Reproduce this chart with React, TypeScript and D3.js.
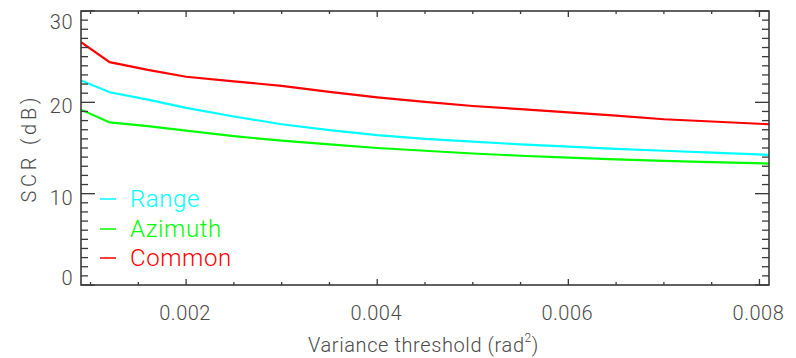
import React from "react";
import * as d3 from "d3";

const xValues = [0.0009, 0.0012, 0.0016, 0.002, 0.0025, 0.003, 0.0035, 0.004, 0.0045, 0.005, 0.0055, 0.006, 0.0065, 0.007, 0.0075, 0.0081];
const rangeValues = [22.4, 21.1, 20.3, 19.4, 18.45, 17.6, 16.95, 16.4, 16.0, 15.7, 15.4, 15.15, 14.9, 14.7, 14.5, 14.25];
const azimuthValues = [19.2, 17.8, 17.4, 16.9, 16.3, 15.8, 15.4, 15.0, 14.7, 14.4, 14.15, 13.95, 13.75, 13.6, 13.45, 13.3];
const commonValues = [26.6, 24.4, 23.55, 22.8, 22.3, 21.8, 21.15, 20.55, 20.05, 19.6, 19.25, 18.9, 18.55, 18.15, 17.9, 17.6];

const seriesNames = ["Range", "Azimuth", "Common"];
const seriesColors = ["#00ffff", "#00ff00", "#ff0000"];
const seriesData = [rangeValues, azimuthValues, commonValues];

const xTickLabels = ["0.002", "0.004", "0.006", "0.008"];
const yTickLabels = ["0", "10", "20", "30"];

const W = 796;
const H = 358;
const M = { left: 81, right: 769, top: 11, bottom: 285 };
const FONT = "Roboto, 'DejaVu Sans', sans-serif";
const AXIS = "#3a3a3a";
const TEXT = "#4a4a4a";

export default function App() {
  const x = d3.scaleLinear().domain([0.0009, 0.0081]).range([M.left, M.right]);
  const y = d3.scaleLinear().domain([0, 30]).range([M.bottom, M.top]);

  const line = d3
    .line<[number, number]>()
    .x((d) => x(d[0]))
    .y((d) => y(d[1]));

  const xMinor = d3.range(0.001, 0.00811, 0.0005).filter((v) => v >= 0.0009 && v <= 0.0081);
  const xMajor = xTickLabels.map(Number);
  const yMinor = d3.range(0, 31, 1);
  const yMajor = yTickLabels.map(Number);

  const isMajorX = (v: number) => xMajor.some((m) => Math.abs(m - v) < 1e-9);
  const isMajorY = (v: number) => yMajor.includes(v);

  const legendY = [199, 229, 258];

  return (
    <svg
      width={W}
      height={H}
      style={{ position: "absolute", left: 0, top: 0, background: "#fff" }}
      fontFamily={FONT}
    >
      <rect x={0} y={0} width={W} height={H} fill="#fff" />
      <defs>
        <clipPath id="clip">
          <rect x={M.left} y={M.top} width={M.right - M.left} height={M.bottom - M.top} />
        </clipPath>
      </defs>
      {/* data lines */}
      <g clipPath="url(#clip)">
        {seriesData.map((vals, i) => (
          <path
            key={seriesNames[i]}
            d={line(xValues.map((xv, j) => [xv, vals[j]]) as [number, number][]) || ""}
            fill="none"
            stroke={seriesColors[i]}
            strokeWidth={2.2}
          />
        ))}
      </g>

      {/* frame */}
      <rect
        x={M.left}
        y={M.top}
        width={M.right - M.left}
        height={M.bottom - M.top}
        fill="none"
        stroke={AXIS}
        strokeWidth={1.6}
      />

      {/* x ticks bottom & top */}
      {xMinor.map((v) => {
        const len = isMajorX(v) ? 6 : 3;
        const px = x(v);
        return (
          <g key={"xt" + v}>
            <line x1={px} x2={px} y1={M.bottom} y2={M.bottom - len} stroke={AXIS} strokeWidth={1.3} />
            <line x1={px} x2={px} y1={M.top} y2={M.top + len} stroke={AXIS} strokeWidth={1.3} />
          </g>
        );
      })}

      {/* y ticks left & right */}
      {yMinor.map((v) => {
        const len = isMajorY(v) ? 14 : 7;
        const py = y(v);
        return (
          <g key={"yt" + v}>
            <line x1={M.left} x2={M.left + len} y1={py} y2={py} stroke={AXIS} strokeWidth={1.3} />
            <line x1={M.right} x2={M.right - len} y1={py} y2={py} stroke={AXIS} strokeWidth={1.3} />
          </g>
        );
      })}

      {/* x tick labels */}
      {xTickLabels.map((t) => (
        <text
          key={"xl" + t}
          x={x(Number(t)) - 1}
          y={313}
          textAnchor="middle"
          dominantBaseline="central"
          fontSize={20}
          fontWeight={300}
          fill={TEXT}
          letterSpacing={0.5}
        >
          {t}
        </text>
      ))}

      {/* y tick labels */}
      {yTickLabels.map((t) => {
        const py = Math.max(M.top + 11, Math.min(M.bottom - 7, y(Number(t)) + 4));
        return (
          <text
            key={"yl" + t}
            x={73}
            y={py}
            textAnchor="end"
            dominantBaseline="central"
            fontSize={20}
            fontWeight={300}
            fill={TEXT}
            letterSpacing={0.5}
          >
            {t}
          </text>
        );
      })}

      {/* axis titles */}
      <text
        x={308}
        y={345}
        dominantBaseline="central"
        fontSize={20}
        fontWeight={300}
        fill={TEXT}
        letterSpacing={0.6}
      >
        Variance threshold (rad
        <tspan fontSize={12} dy={-7}>2</tspan>
        <tspan dy={7}>)</tspan>
      </text>
      <text
        transform={`translate(29,150) rotate(-90)`}
        textAnchor="middle"
        dominantBaseline="central"
        fontSize={20}
        fontWeight={300}
        fill={TEXT}
        textLength={105}
        lengthAdjust="spacing"
      >
        SCR (dB)
      </text>

      {/* legend */}
      {seriesNames.map((name, i) => (
        <g key={"lg" + name}>
          <line x1={100} x2={116} y1={legendY[i]} y2={legendY[i]} stroke={seriesColors[i]} strokeWidth={1.5} />
          <text
            x={130}
            y={legendY[i]}
            dominantBaseline="central"
            fontSize={24}
            fontWeight={300}
            fill={seriesColors[i]}
            letterSpacing={0.6}
          >
            {name}
          </text>
        </g>
      ))}
    </svg>
  );
}
